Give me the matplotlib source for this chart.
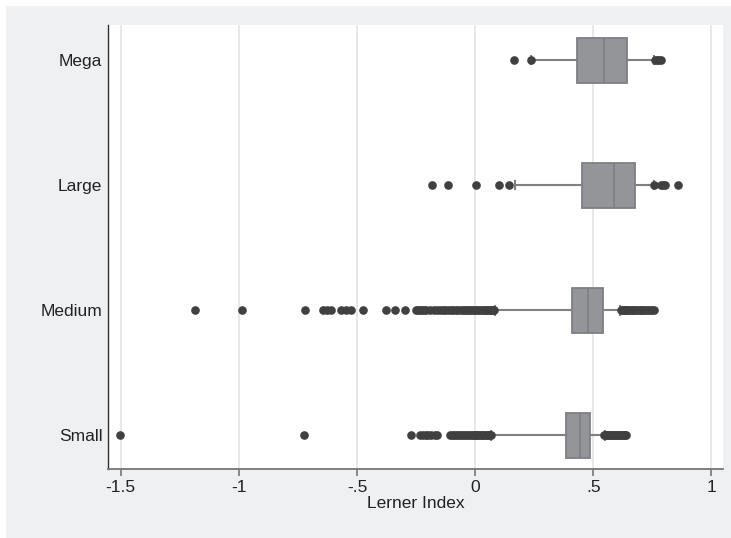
import matplotlib.pyplot as plt
from matplotlib.patches import Rectangle

# categories (bottom to top)
groups = ['Small', 'Medium', 'Large', 'Mega']

# box statistics
q1 = [0.384, 0.411, 0.452, 0.433]
med = [0.442, 0.476, 0.587, 0.547]
q3 = [0.486, 0.540, 0.678, 0.641]
whis_lo = [0.069, 0.084, 0.167, 0.238]
whis_hi = [0.549, 0.614, 0.757, 0.757]

# outside values
out_small = [-1.503, -0.723, -0.273, -0.235, -0.222, -0.210, -0.198, -0.185, -0.172, -0.162,
             -0.105, -0.097, -0.089, -0.080, -0.072, -0.063, -0.055, -0.046, -0.038, -0.030,
             -0.022, -0.014, -0.007, 0.000, 0.007, 0.014, 0.021, 0.028, 0.035, 0.042,
             0.049, 0.055, 0.061, 0.066,
             0.545, 0.551, 0.557, 0.563, 0.569, 0.575, 0.581, 0.587, 0.593, 0.599,
             0.605, 0.611, 0.617, 0.623, 0.629, 0.634, 0.637]
out_medium = [-1.187, -0.985, -0.722, -0.644, -0.628, -0.609, -0.566, -0.548, -0.524, -0.475,
              -0.376, -0.341, -0.295,
              -0.249, -0.241, -0.233, -0.226, -0.218, -0.206, -0.190, -0.175, -0.162, -0.150,
              -0.138, -0.126, -0.115, -0.104, -0.093, -0.083, -0.072, -0.062, -0.052, -0.043,
              -0.034, -0.025, -0.016, -0.008, 0.000, 0.008, 0.016, 0.024, 0.032, 0.040,
              0.047, 0.054, 0.061, 0.068, 0.074, 0.080,
              0.618, 0.624, 0.630, 0.636, 0.642, 0.648, 0.655, 0.662, 0.669, 0.676,
              0.684, 0.692, 0.700, 0.708, 0.716, 0.724, 0.733, 0.742, 0.750, 0.755]
out_large = [-0.183, -0.116, 0.002, 0.102, 0.142, 0.758, 0.788, 0.796, 0.805, 0.858]
out_mega = [0.164, 0.238, 0.762, 0.770, 0.778, 0.787]
outliers = [out_small, out_medium, out_large, out_mega]

xticks = [-1.5, -1, -0.5, 0, 0.5, 1]
xticklabels = ['-1.5', '-1', '-.5', '0', '.5', '1']

plt.rcParams['font.family'] = ['Liberation Sans', 'DejaVu Sans']

fig = plt.figure(figsize=(7.31, 5.38), dpi=100)
fig.patch.set_facecolor('white')
fig.patches.append(Rectangle((6 / 731, 0), 1, 1 - 6 / 538, transform=fig.transFigure,
                             facecolor='#eef0f2', edgecolor='none', zorder=-10))
ax = fig.add_axes([108 / 731, 1 - 469 / 538, (723 - 108) / 731, (469 - 25) / 538])
ax.set_zorder(1)
ax.set_facecolor('white')

stats = []
for i in range(len(groups)):
    stats.append({'med': med[i], 'q1': q1[i], 'q3': q3[i],
                  'whislo': whis_lo[i], 'whishi': whis_hi[i],
                  'fliers': outliers[i], 'label': groups[i]})

ax.bxp(stats, positions=range(len(groups)), widths=0.36, vert=False, patch_artist=True,
       boxprops=dict(facecolor='#939599', edgecolor='#7e7f82', linewidth=1.3),
       medianprops=dict(color='#7e7f82', linewidth=1.3),
       whiskerprops=dict(color='#808080', linewidth=1.5),
       capprops=dict(color='#808080', linewidth=1.5),
       capwidths=0.07,
       flierprops=dict(marker='o', markersize=5.2, markerfacecolor='#404040',
                       markeredgecolor='#404040', linestyle='none'))

ax.set_xlim(-1.554, 1.049)
ax.set_ylim(-0.27, 3.28)
ax.set_xticks(xticks)
ax.set_xticklabels(xticklabels, fontsize=12.5, color='#222222')
ax.set_yticks(range(len(groups)))
ax.set_yticklabels(groups, fontsize=12.5, color='#222222')
ax.tick_params(axis='y', length=0, pad=4)
ax.tick_params(axis='x', length=5, width=1.2, color='#777777', pad=3)
ax.set_xlabel('Lerner Index', fontsize=12.5, color='#222222', labelpad=1)

ax.grid(axis='x', color='#e4e4e4', linewidth=1.2)
ax.set_axisbelow(True)
for s in ['top', 'right']:
    ax.spines[s].set_visible(False)
ax.spines['left'].set_color('#333333')
ax.spines['left'].set_linewidth(1.0)
ax.spines['bottom'].set_color('#777777')
ax.spines['bottom'].set_linewidth(1.3)

fig.savefig('out.png', dpi=100, facecolor=fig.get_facecolor())
